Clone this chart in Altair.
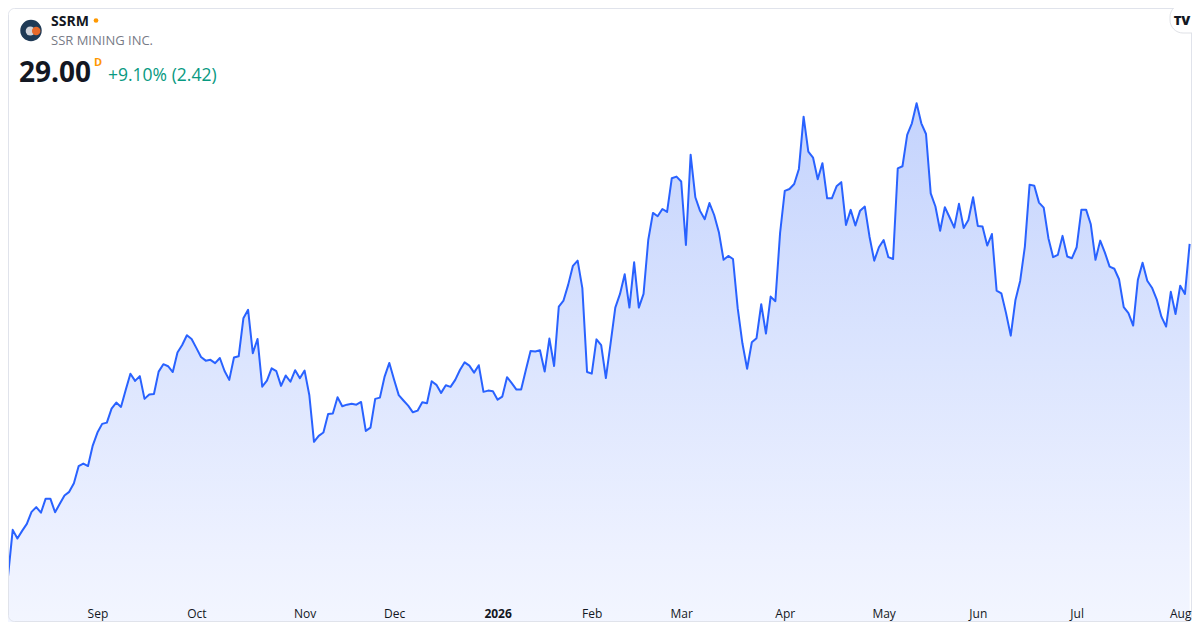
import altair as alt
import pandas as pd

# ---- data (daily closes, trading-day index) ----
prices = [
    12.90, 15.16, 14.74, 15.11, 15.45, 16.03, 16.26, 15.99, 16.67, 16.67,
    16.01, 16.42, 16.82, 17.00, 17.42, 18.24, 18.37, 18.25, 19.24, 19.87,
    20.29, 20.35, 21.03, 21.32, 21.11, 21.93, 22.72, 22.37, 22.60, 21.50,
    21.71, 21.74, 22.82, 23.18, 23.08, 22.80, 23.74, 24.11, 24.58, 24.40,
    23.97, 23.53, 23.35, 23.39, 23.23, 23.48, 22.85, 22.42, 23.50, 23.56,
    25.40, 25.81, 23.71, 24.40, 22.09, 22.38, 22.98, 22.84, 22.13, 22.63,
    22.33, 22.89, 22.50, 22.87, 21.69, 19.42, 19.71, 19.87, 20.77, 20.79,
    21.58, 21.14, 21.22, 21.26, 21.22, 21.35, 19.95, 20.11, 21.50, 21.56,
    22.58, 23.24, 22.44, 21.68, 21.42, 21.17, 20.85, 20.93, 21.34, 21.29,
    22.35, 22.18, 21.79, 22.16, 22.08, 22.42, 22.90, 23.27, 23.11, 22.77,
    23.13, 21.84, 21.90, 21.87, 21.46, 21.61, 22.55, 22.26, 21.95, 21.95,
    22.90, 23.82, 23.79, 23.85, 22.82, 24.42, 23.09, 25.97, 26.26, 27.03,
    27.94, 28.19, 26.86, 22.80, 22.72, 24.38, 24.10, 22.51, 24.19, 25.92,
    26.58, 27.53, 25.92, 28.11, 25.92, 26.58, 29.19, 30.50, 30.34, 30.69,
    30.55, 32.18, 32.26, 32.02, 28.95, 33.32, 31.26, 30.60, 30.20, 30.98,
    30.40, 29.57, 28.23, 28.42, 28.27, 25.89, 24.19, 22.96, 24.24, 24.44,
    26.08, 24.66, 26.45, 26.23, 29.52, 31.57, 31.66, 31.90, 32.63, 35.16,
    33.47, 33.18, 32.13, 32.91, 31.21, 31.21, 31.79, 31.99, 29.92, 30.65,
    29.89, 30.61, 30.81, 29.35, 28.19, 28.84, 29.19, 28.36, 28.27, 32.66,
    32.76, 34.28, 34.84, 35.81, 34.84, 34.32, 31.45, 30.81, 29.64, 30.78,
    30.29, 29.79, 30.94, 29.77, 30.16, 31.26, 29.87, 29.84, 28.92, 29.48,
    26.74, 26.61, 25.65, 24.56, 26.29, 27.21, 28.87, 31.87, 31.82, 31.00,
    30.76, 29.28, 28.36, 28.47, 29.39, 28.39, 28.31, 28.84, 30.65, 30.66,
    29.95, 28.23, 29.16, 28.58, 27.90, 27.80, 27.29, 25.94, 25.65, 25.05,
    27.26, 28.09, 27.22, 26.88, 26.32, 25.48, 25.00, 26.68, 25.61, 26.98,
    26.58, 29.00,
]

# first trading day of each month (index into prices) and its label
tick_index = [19, 40, 63, 82, 104, 124, 143, 165, 186, 206, 227, 249]
tick_labels = ["Sep", "Oct", "Nov", "Dec", "2026", "Feb", "Mar", "Apr",
               "May", "Jun", "Jul", "Aug"]
year_tick = 104

symbol = ["SSRM"]
company = ["SSR MINING INC."]
last_price = ["29.00"]
flag = ["D"]
change_text = ["+9.10% (2.42)"]
logo_text = ["TV"]

W, H = 1184, 614
FONT = "Open Sans"
LINE = "#2962ff"

df = pd.DataFrame({"i": list(range(len(prices))), "price": prices})

x_scale = alt.Scale(domain=[0, 251.5], nice=False, zero=False)
y_scale = alt.Scale(domain=[10.70, 40.42], nice=False, zero=False)

label_expr = (
    "[" + ",".join("'" + s + "'" for s in tick_labels) + "]"
    + "[indexof([" + ",".join(str(v) for v in tick_index) + "], datum.value)]"
)

x_axis = alt.Axis(
    values=tick_index,
    labelExpr=label_expr,
    orient="bottom",
    offset=-5,
    domain=False,
    ticks=False,
    tickSize=0,
    grid=False,
    labelPadding=0,
    labelBaseline="alphabetic",
    labelAlign="center",
    labelAngle=0,
    labelFontSize=12,
    labelFont=FONT,
    labelColor="#131722",
    labelOverlap=False,
    labelFontWeight={
        "condition": {"test": f"datum.value == {year_tick}", "value": "bold"},
        "value": "normal",
    },
    title=None,
    zindex=1,
)

x_enc = alt.X("i:Q", scale=x_scale, axis=x_axis)
y_enc = alt.Y("price:Q", scale=y_scale, axis=None)

one = pd.DataFrame({"k": [0]})

border = alt.Chart(one).mark_rect(
    fillOpacity=0, stroke="#e0e3eb", strokeWidth=1, cornerRadius=6
).encode(
    x=alt.value(0.5), x2=alt.value(W - 0.5), y=alt.value(0.5), y2=alt.value(H - 0.5)
)

area = alt.Chart(df).mark_area(
    color=alt.Gradient(
        gradient="linear",
        stops=[
            alt.GradientStop(color="#c4d3fd", offset=0),
            alt.GradientStop(color="#dce5fe", offset=0.35),
            alt.GradientStop(color="#edf1ff", offset=0.6),
            alt.GradientStop(color="#f9fbff", offset=0.82),
            alt.GradientStop(color="#ffffff", offset=1),
        ],
        x1=1, x2=1, y1=0, y2=1,
    ),
    interpolate="linear",
).encode(x=x_enc, y=y_enc, y2=alt.value(H))

line = alt.Chart(df).mark_line(
    color=LINE, strokeWidth=2, interpolate="linear", strokeJoin="round"
).encode(x=x_enc, y=y_enc)


def label(values, px, py, size, color, weight="normal", align="left"):
    d = pd.DataFrame({"t": values})
    return alt.Chart(d).mark_text(
        font=FONT, fontSize=size, fontWeight=weight, color=color,
        align=align, baseline="alphabetic"
    ).encode(text="t:N", x=alt.value(px), y=alt.value(py))


t_symbol = label(symbol, 43, 18, 14, "#131722", "bold")
t_company = label(company, 43, 37, 13, "#787b86")
t_price = label(last_price, 11, 74, 28, "#131722", "bold")
t_flag = label(flag, 86, 58, 11, "#ff9800", "bold")
t_change = label(change_text, 100, 73, 17.5, "#089981")

logo_bg = alt.Chart(one).mark_circle(color="#1f3a56", opacity=1, size=460).encode(
    x=alt.value(23), y=alt.value(22.5))
logo_grey = alt.Chart(one).mark_circle(color="#d1d4dc", opacity=1, size=85).encode(
    x=alt.value(22.3), y=alt.value(23))
logo_orange = alt.Chart(one).mark_circle(color="#e8692a", opacity=1, size=72).encode(
    x=alt.value(28.2), y=alt.value(23))
dot = alt.Chart(one).mark_circle(color="#ff9800", opacity=1, size=22).encode(
    x=alt.value(88), y=alt.value(12.5))

pill = alt.Chart(one).mark_rect(
    fill="white", stroke="#dfe1e6", strokeWidth=1, cornerRadius=13
).encode(x=alt.value(1162), x2=alt.value(1200), y=alt.value(-4), y2=alt.value(25))
t_logo = label(logo_text, 1174, 17, 13, "#131722", 900, "center")

chart = alt.layer(
    area, line, border,
    t_symbol, t_company, t_price, t_flag, t_change,
    logo_bg, logo_grey, logo_orange, dot, pill, t_logo,
).properties(
    width=W, height=H,
    autosize=alt.AutoSizeParams(type="none"),
    padding=0,
    background="white",
).configure_view(stroke=None)

chart.save("out.html", embed_options={"renderer": "svg", "actions": False})
